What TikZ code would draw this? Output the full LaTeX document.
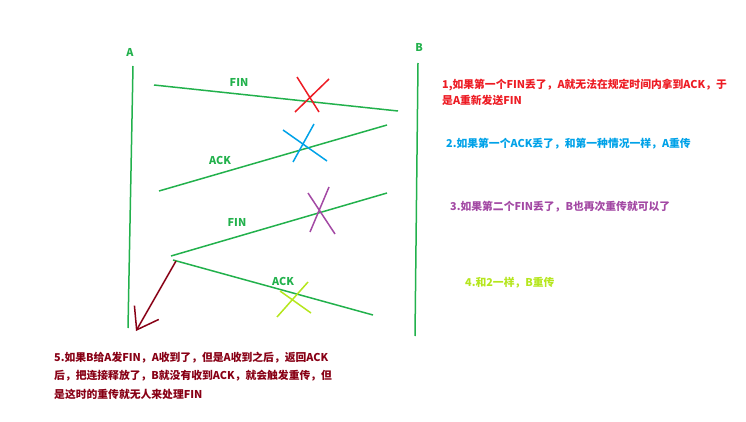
\documentclass[tikz,border=0pt]{standalone}
\usepackage{fontspec}
\setmainfont{Noto Sans CJK SC}
\usetikzlibrary{arrows.meta}
\definecolor{pgreen}{RGB}{34,177,76}
\definecolor{pred}{RGB}{237,28,36}
\definecolor{pblue}{RGB}{0,162,232}
\definecolor{ppurple}{RGB}{163,73,164}
\definecolor{plime}{RGB}{181,230,29}
\definecolor{pdark}{RGB}{136,0,21}
\tikzset{
  msg/.style={pgreen,line width=1.5pt},
  lbl/.style={pgreen,inner sep=0pt},
  note/.style={anchor=west,align=left,inner sep=0pt},
  lost/.style={line width=1.5pt}
}
\begin{document}
\begin{tikzpicture}[x=1pt,y=-1pt,font=\bfseries\fontsize{10.8}{16.7}\selectfont]
  \useasboundingbox (0,0) rectangle (746,422);
  % lifelines
  \node[lbl] (labA) at (130,52) {A};
  \node[lbl] (labB) at (419,47) {B};
  \coordinate (A1) at (133,66);  \coordinate (A2) at (128,328);
  \coordinate (B1) at (418,63);  \coordinate (B2) at (415,336);
  \draw[msg] (A1)--(A2);
  \draw[msg] (B1)--(B2);
  % messages
  \coordinate (fin1s) at (154,85);  \coordinate (fin1e) at (398,111);
  \coordinate (ack1s) at (387,125); \coordinate (ack1e) at (159,191);
  \coordinate (fin2s) at (387,193); \coordinate (fin2e) at (171,256);
  \coordinate (ack2s) at (173,260); \coordinate (ack2e) at (373,315);
  \draw[msg] (fin1s)--(fin1e);
  \draw[msg] (ack1s)--(ack1e);
  \draw[msg] (fin2s)--(fin2e);
  \draw[msg] (ack2s)--(ack2e);
  \node[lbl] (fin1) at (239,82) {FIN};
  \node[lbl] (ack1) at (220,160) {ACK};
  \node[lbl] (fin2) at (237,222) {FIN};
  \node[lbl] (ack2) at (283,281) {ACK};
  % lost packets
  \draw[lost,pred] (297,77)--(319,112) (329,79)--(295,112);
  \draw[lost,pblue] (283,130)--(327,161) (314,124)--(293,162);
  \draw[lost,ppurple] (308,193)--(335,234) (329,187)--(310,232);
  \draw[lost,plime] (280,291)--(311,313) (308,282)--(277,317);
  \coordinate (arrS) at (176,261); \coordinate (arrE) at (136,331);
  \draw[lost,pdark,-{Straight Barb[length=20pt,width=28pt,line width=1.5pt]}] (arrS)--(arrE);
  % notes
  \node[note,pred] (note1) at (442,92.3) {1,如果第一个FIN丢了，A就无法在规定时间内拿到ACK，于\\是A重新发送FIN};
  \node[note,pblue] (note2) at (446,143.3) {2.如果第一个ACK丢了，和第一种情况一样，A重传};
  \node[note,ppurple] (note3) at (450,206.7) {3.如果第二个FIN丢了，B也再次重传就可以了};
  \node[note,plime] (note4) at (465,282.7) {4.和2一样，B重传};
  \node[note,pdark,font=\bfseries\fontsize{10.8}{18.3}\selectfont] (note5) at (54,375.7)
    {5.如果B给A发FIN，A收到了，但是A收到之后，返回ACK\\后，把连接释放了，B就没有收到ACK，就会触发重传，但\\是这时的重传就无人来处理FIN};
\end{tikzpicture}
\end{document}
